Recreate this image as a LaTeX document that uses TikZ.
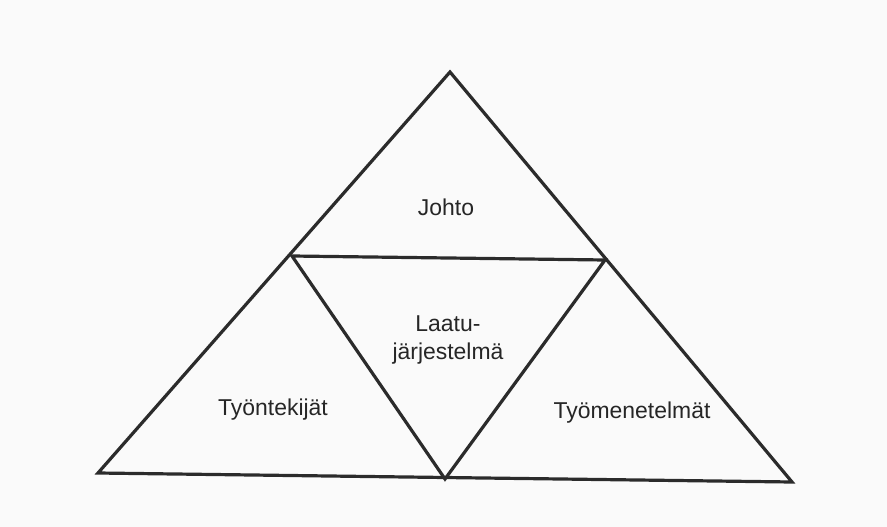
\documentclass[tikz,border=0pt]{standalone}
\usepackage{fontspec}
\setmainfont{Liberation Sans}
\definecolor{ink}{HTML}{2B2B2B}
\definecolor{paper}{HTML}{FAFAFA}
\begin{document}
\begin{tikzpicture}[x=0.75pt,y=-0.75pt,
  edge/.style={draw=ink,line width=2.4pt,line join=miter},
  lbl/.style={font=\fontsize{17.2}{21}\selectfont,text=black!85,align=center,inner sep=0pt}]
\fill[paper] (0,0) rectangle (887,527);
\useasboundingbox (0,0) rectangle (887,527);
\coordinate (A) at (450,72);
\coordinate (L) at (292,256);
\coordinate (R) at (605,260);
\coordinate (BL) at (98,473);
\coordinate (BM) at (445,479);
\coordinate (BR) at (792,482);
\draw[edge] (A) -- (BR) -- (BL) -- cycle;
\draw[edge] (L) -- (R) -- (BM) -- cycle;
\node[lbl] (johto) at (446,207) {Johto};
\node[lbl] (laatu) at (448,340) {Laatu-\\järjestelmä};
\node[lbl] (tyont) at (273,410) {Työntekijät};
\node[lbl] (tyom) at (632,413) {Työmenetelmät};
\end{tikzpicture}
\end{document}
